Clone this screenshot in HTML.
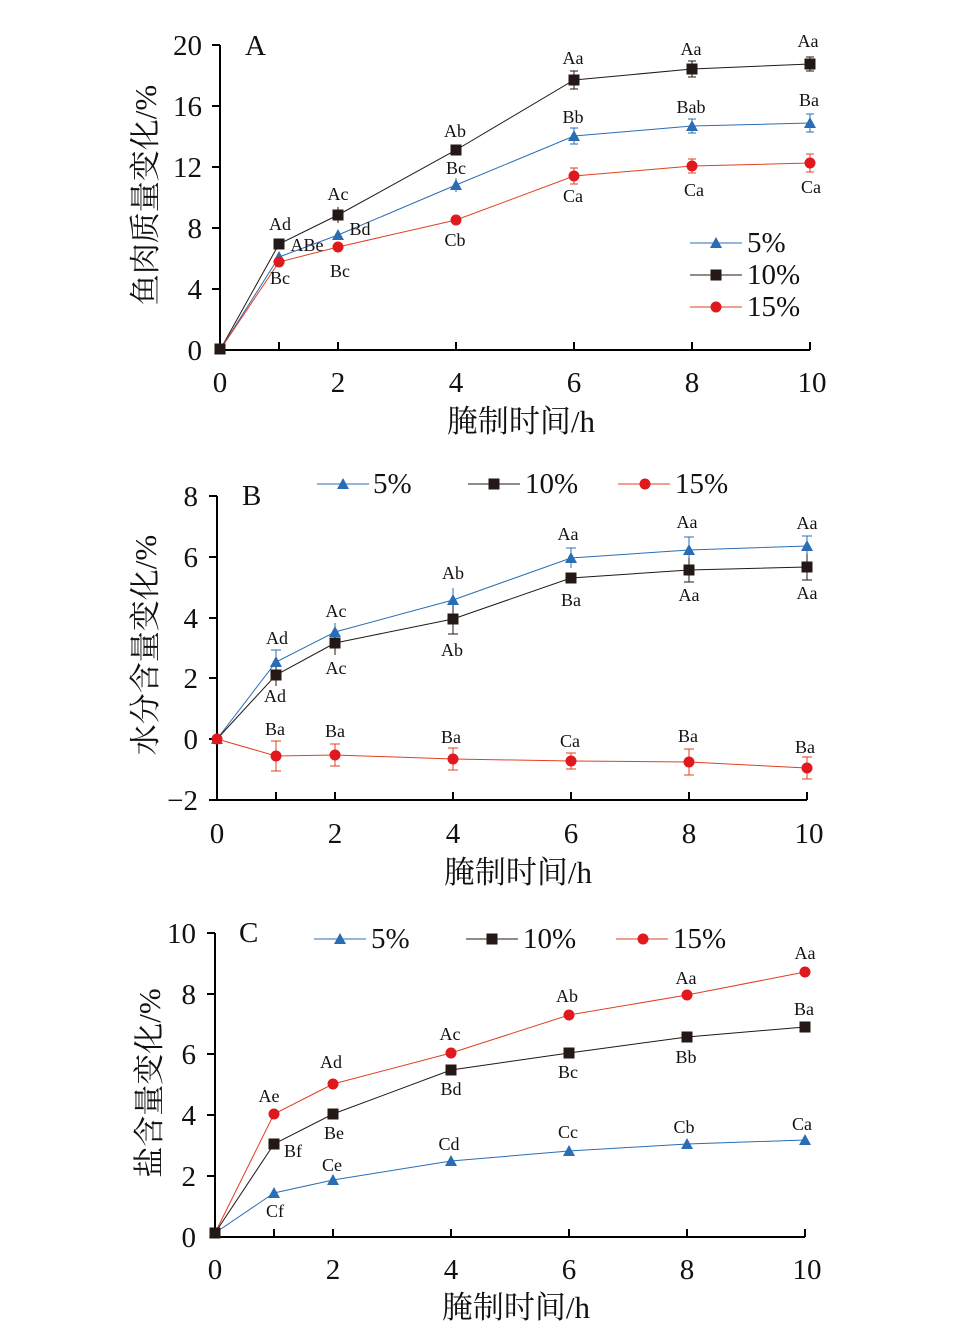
<!DOCTYPE html>
<html><head><meta charset="utf-8"><style>
body{margin:0;background:#fff}
svg text{font-family:"Liberation Serif","Noto Serif CJK SC",serif;fill:#111}
.t{font-size:29px}.s{font-size:18px}.c{font-size:31px}
</style></head><body>
<svg width="966" height="1338" viewBox="0 0 966 1338" xmlns="http://www.w3.org/2000/svg">
<defs>
<g id="tri"><polygon points="0,-6 6,5 -6,5" fill="#2a6db5"/></g>
<g id="sq"><rect x="-5.5" y="-5.5" width="11" height="11" fill="#231815"/></g>
<g id="ci"><circle r="5.5" fill="#e0191e"/></g>
</defs>

<!-- Panel A -->
<g stroke="#000" stroke-width="2" fill="none">
<path d="M220,45V350H810"/>
<path d="M220,45h-8M220,106h-8M220,167h-8M220,228h-8M220,289h-8"/>
<path d="M279,350v-8M338,350v-8M456,350v-8M574,350v-8M692,350v-8M810,350v-8"/>
</g>
<g class="t" text-anchor="end"><text x="202" y="55">20</text><text x="202" y="116">16</text><text x="202" y="177">12</text><text x="202" y="238">8</text><text x="202" y="299">4</text><text x="202" y="360">0</text></g>
<g class="t" text-anchor="middle"><text x="220" y="392">0</text><text x="338" y="392">2</text><text x="456" y="392">4</text><text x="574" y="392">6</text><text x="692" y="392">8</text><text x="812" y="392">10</text></g>
<text x="245" y="55" class="t">A</text>
<text x="521" y="432" class="c" text-anchor="middle">腌制时间/h</text>
<text transform="translate(156,195) rotate(-90)" class="c" text-anchor="middle">鱼肉质量变化/%</text>
<polyline fill="none" stroke="#231815" stroke-width="1" points="220,350 279,244 338,215 456,150 574,80 692,69 810,64"/>
<polyline fill="none" stroke="#2a6db5" stroke-width="1" points="220,350 279,257 338,235 456,185 574,136 692,126 810,123"/>
<polyline fill="none" stroke="#e04020" stroke-width="1" points="220,350 279,262 338,247 456,220 574,176 692,166 810,163"/>
<g stroke="#231815" stroke-width="1"><path d="M574,71v18M570,71h8M570,89h8M692,61v16M688,61h8M688,77h8M810,57v14M806,57h8M806,71h8M338,207v16"/></g>
<g stroke="#2a6db5" stroke-width="1"><path d="M574,128v16M570,128h8M570,144h8M692,119v14M688,119h8M688,133h8M810,114v18M806,114h8M806,132h8M456,178v14"/></g>
<g stroke="#e04020" stroke-width="1"><path d="M574,168v16M570,168h8M570,184h8M692,159v14M688,159h8M688,173h8M810,154v18M806,154h8M806,172h8"/></g>
<use href="#tri" x="220" y="349"/><use href="#tri" x="279" y="257"/><use href="#tri" x="338" y="235"/><use href="#tri" x="456" y="185"/><use href="#tri" x="574" y="136"/><use href="#tri" x="692" y="126"/><use href="#tri" x="810" y="123"/>
<use href="#ci" x="279" y="262"/><use href="#ci" x="338" y="247"/><use href="#ci" x="456" y="220"/><use href="#ci" x="574" y="176"/><use href="#ci" x="692" y="166"/><use href="#ci" x="810" y="163"/>
<use href="#sq" x="220" y="349"/><use href="#sq" x="279" y="244"/><use href="#sq" x="338" y="215"/><use href="#sq" x="456" y="150"/><use href="#sq" x="574" y="80"/><use href="#sq" x="692" y="69"/><use href="#sq" x="810" y="64"/>
<g class="s" text-anchor="middle">
<text x="280" y="230">Ad</text><text x="307" y="251">ABe</text><text x="280" y="284">Bc</text>
<text x="338" y="200">Ac</text><text x="360" y="235">Bd</text><text x="340" y="277">Bc</text>
<text x="455" y="137">Ab</text><text x="456" y="174">Bc</text><text x="455" y="246">Cb</text>
<text x="573" y="64">Aa</text><text x="573" y="123">Bb</text><text x="573" y="202">Ca</text>
<text x="691" y="55">Aa</text><text x="691" y="113">Bab</text><text x="694" y="196">Ca</text>
<text x="808" y="47">Aa</text><text x="809" y="106">Ba</text><text x="811" y="193">Ca</text>
</g>
<g stroke-width="1"><path d="M690,243h52" stroke="#2a6db5"/><path d="M690,275h52" stroke="#231815"/><path d="M690,307h52" stroke="#e04020"/></g>
<use href="#tri" x="716" y="243"/><use href="#sq" x="716" y="275"/><use href="#ci" x="716" y="307"/>
<g class="t"><text x="747" y="252">5%</text><text x="747" y="284">10%</text><text x="747" y="316">15%</text></g>

<!-- Panel B -->
<g stroke="#000" stroke-width="2" fill="none">
<path d="M217,496V800H807"/>
<path d="M217,496h-8M217,557h-8M217,618h-8M217,678h-8M217,739h-8M217,800h-8"/>
<path d="M276,800v-8M335,800v-8M453,800v-8M571,800v-8M689,800v-8M807,800v-8"/>
</g>
<g class="t" text-anchor="end"><text x="198" y="506">8</text><text x="198" y="567">6</text><text x="198" y="628">4</text><text x="198" y="688">2</text><text x="198" y="749">0</text><text x="198" y="810">−2</text></g>
<g class="t" text-anchor="middle"><text x="217" y="843">0</text><text x="335" y="843">2</text><text x="453" y="843">4</text><text x="571" y="843">6</text><text x="689" y="843">8</text><text x="809" y="843">10</text></g>
<text x="242" y="505" class="t">B</text>
<text x="518" y="883" class="c" text-anchor="middle">腌制时间/h</text>
<text transform="translate(156,645) rotate(-90)" class="c" text-anchor="middle">水分含量变化/%</text>
<polyline fill="none" stroke="#2a6db5" stroke-width="1" points="217,739 276,662 335,632 453,600 571,558 689,550 807,546"/>
<polyline fill="none" stroke="#231815" stroke-width="1" points="217,739 276,675 335,643 453,619 571,578 689,570 807,567"/>
<polyline fill="none" stroke="#e04020" stroke-width="1" points="217,739 276,756 335,755 453,759 571,761 689,762 807,768"/>
<g stroke="#2a6db5" stroke-width="1"><path d="M276,650v24M271,650h10M571,548v20M566,548h10M689,537v26M684,537h10M807,536v20M802,536h10M453,588v20M335,623v18"/></g>
<g stroke="#231815" stroke-width="1"><path d="M453,604v30M448,634h10M689,558v24M684,582h10M807,554v26M802,580h10M335,633v22M276,664v22"/></g>
<g stroke="#e04020" stroke-width="1"><path d="M276,741v30M271,741h10M271,771h10M335,744v22M330,744h10M330,766h10M453,748v22M448,748h10M448,770h10M571,753v16M566,753h10M566,769h10M689,749v26M684,749h10M684,775h10M807,757v22M802,757h10M802,779h10"/></g>
<use href="#tri" x="217" y="739"/><use href="#tri" x="276" y="662"/><use href="#tri" x="335" y="632"/><use href="#tri" x="453" y="600"/><use href="#tri" x="571" y="558"/><use href="#tri" x="689" y="550"/><use href="#tri" x="807" y="546"/>
<use href="#sq" x="276" y="675"/><use href="#sq" x="335" y="643"/><use href="#sq" x="453" y="619"/><use href="#sq" x="571" y="578"/><use href="#sq" x="689" y="570"/><use href="#sq" x="807" y="567"/>
<use href="#ci" x="217" y="739"/><use href="#ci" x="276" y="756"/><use href="#ci" x="335" y="755"/><use href="#ci" x="453" y="759"/><use href="#ci" x="571" y="761"/><use href="#ci" x="689" y="762"/><use href="#ci" x="807" y="768"/>
<g class="s" text-anchor="middle">
<text x="277" y="644">Ad</text><text x="275" y="702">Ad</text><text x="275" y="735">Ba</text>
<text x="336" y="617">Ac</text><text x="336" y="674">Ac</text><text x="335" y="737">Ba</text>
<text x="453" y="579">Ab</text><text x="452" y="656">Ab</text><text x="451" y="743">Ba</text>
<text x="568" y="540">Aa</text><text x="571" y="606">Ba</text><text x="570" y="747">Ca</text>
<text x="687" y="528">Aa</text><text x="689" y="601">Aa</text><text x="688" y="742">Ba</text>
<text x="807" y="529">Aa</text><text x="807" y="599">Aa</text><text x="805" y="753">Ba</text>
</g>
<g stroke-width="1"><path d="M317,484h52" stroke="#2a6db5"/><path d="M468,484h52" stroke="#231815"/><path d="M618,484h52" stroke="#e04020"/></g>
<use href="#tri" x="343" y="484"/><use href="#sq" x="494" y="484"/><use href="#ci" x="645" y="484"/>
<g class="t"><text x="373" y="493">5%</text><text x="525" y="493">10%</text><text x="675" y="493">15%</text></g>

<!-- Panel C -->
<g stroke="#000" stroke-width="2" fill="none">
<path d="M215,933V1237H805"/>
<path d="M215,933h-8M215,994h-8M215,1054h-8M215,1115h-8M215,1176h-8"/>
<path d="M274,1237v-8M333,1237v-8M451,1237v-8M569,1237v-8M687,1237v-8M805,1237v-8"/>
</g>
<g class="t" text-anchor="end"><text x="196" y="943">10</text><text x="196" y="1004">8</text><text x="196" y="1064">6</text><text x="196" y="1125">4</text><text x="196" y="1186">2</text><text x="196" y="1247">0</text></g>
<g class="t" text-anchor="middle"><text x="215" y="1279">0</text><text x="333" y="1279">2</text><text x="451" y="1279">4</text><text x="569" y="1279">6</text><text x="687" y="1279">8</text><text x="807" y="1279">10</text></g>
<text x="239" y="942" class="t">C</text>
<text x="516" y="1318" class="c" text-anchor="middle">腌制时间/h</text>
<text transform="translate(160,1083) rotate(-90)" class="c" text-anchor="middle">盐含量变化/%</text>
<polyline fill="none" stroke="#e04020" stroke-width="1" points="215,1233 274,1114 333,1084 451,1053 569,1015 687,995 805,972"/>
<polyline fill="none" stroke="#231815" stroke-width="1" points="215,1233 274,1144 333,1114 451,1070 569,1053 687,1037 805,1027"/>
<polyline fill="none" stroke="#2a6db5" stroke-width="1" points="215,1233 274,1193 333,1180 451,1161 569,1151 687,1144 805,1140"/>
<use href="#ci" x="274" y="1114"/><use href="#ci" x="333" y="1084"/><use href="#ci" x="451" y="1053"/><use href="#ci" x="569" y="1015"/><use href="#ci" x="687" y="995"/><use href="#ci" x="805" y="972"/>
<use href="#sq" x="274" y="1144"/><use href="#sq" x="333" y="1114"/><use href="#sq" x="451" y="1070"/><use href="#sq" x="569" y="1053"/><use href="#sq" x="687" y="1037"/><use href="#sq" x="805" y="1027"/>
<use href="#tri" x="215" y="1233"/><use href="#sq" x="215" y="1233"/><use href="#tri" x="274" y="1193"/><use href="#tri" x="333" y="1180"/><use href="#tri" x="451" y="1161"/><use href="#tri" x="569" y="1151"/><use href="#tri" x="687" y="1144"/><use href="#tri" x="805" y="1140"/>
<g class="s" text-anchor="middle">
<text x="269" y="1102">Ae</text><text x="293" y="1157">Bf</text><text x="275" y="1217">Cf</text>
<text x="331" y="1068">Ad</text><text x="334" y="1139">Be</text><text x="332" y="1171">Ce</text>
<text x="450" y="1040">Ac</text><text x="451" y="1095">Bd</text><text x="449" y="1150">Cd</text>
<text x="567" y="1002">Ab</text><text x="568" y="1078">Bc</text><text x="568" y="1138">Cc</text>
<text x="686" y="984">Aa</text><text x="686" y="1063">Bb</text><text x="684" y="1133">Cb</text>
<text x="805" y="959">Aa</text><text x="804" y="1015">Ba</text><text x="802" y="1130">Ca</text>
</g>
<g stroke-width="1"><path d="M314,939h52" stroke="#2a6db5"/><path d="M466,939h52" stroke="#231815"/><path d="M616,939h52" stroke="#e04020"/></g>
<use href="#tri" x="340" y="939"/><use href="#sq" x="492" y="939"/><use href="#ci" x="643" y="939"/>
<g class="t"><text x="371" y="948">5%</text><text x="523" y="948">10%</text><text x="673" y="948">15%</text></g>
</svg>
</body></html>
